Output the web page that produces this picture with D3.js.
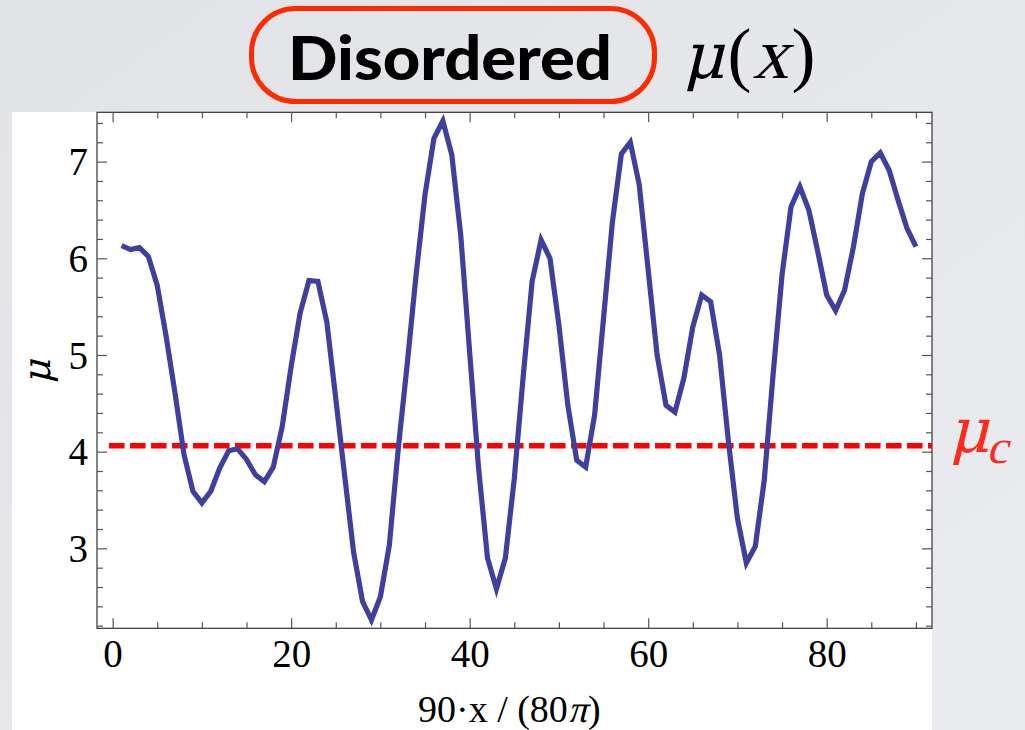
<!DOCTYPE html>
<html>
<head>
<meta charset="utf-8">
<script src="https://cdn.jsdelivr.net/npm/d3@7"></script>
<style>
  html, body { margin: 0; padding: 0; }
  body { width: 1025px; height: 730px; overflow: hidden; }
  svg { display: block; }
  .tick text { font-family: "Liberation Serif", "Times New Roman", serif; fill: #000; }
</style>
</head>
<body>
<svg id="chart" width="1025" height="730"></svg>
<script>
// Chemical potential profile mu along the disordered chain
const xValues = [
  1, 2, 3, 4, 5, 6, 7, 8, 9, 10,
  11, 12, 13, 14, 15, 16, 17, 18, 19, 20,
  21, 22, 23, 24, 25, 26, 27, 28, 29, 30,
  31, 32, 33, 34, 35, 36, 37, 38, 39, 40,
  41, 42, 43, 44, 45, 46, 47, 48, 49, 50,
  51, 52, 53, 54, 55, 56, 57, 58, 59, 60,
  61, 62, 63, 64, 65, 66, 67, 68, 69, 70,
  71, 72, 73, 74, 75, 76, 77, 78, 79, 80,
  81, 82, 83, 84, 85, 86, 87, 88, 89, 90
];
const muValues = [
  6.13, 6.09, 6.11, 6.02, 5.72, 5.19, 4.60, 3.97, 3.59, 3.47,
  3.59, 3.83, 4.01, 4.03, 3.92, 3.76, 3.69, 3.84, 4.26, 4.88,
  5.43, 5.77, 5.76, 5.34, 4.55, 3.75, 2.96, 2.45, 2.26, 2.50,
  3.03, 4.03, 4.90, 5.83, 6.66, 7.24, 7.42, 7.07, 6.24, 5.03,
  3.83, 2.90, 2.58, 2.90, 3.72, 4.78, 5.76, 6.19, 6.00, 5.31,
  4.48, 3.91, 3.84, 4.38, 5.38, 6.38, 7.08, 7.20, 6.76, 5.88,
  5.00, 4.48, 4.41, 4.76, 5.29, 5.62, 5.55, 5.00, 4.10, 3.31,
  2.85, 3.02, 3.70, 4.80, 5.83, 6.53, 6.74, 6.50, 6.07, 5.62,
  5.46, 5.67, 6.12, 6.67, 7.00, 7.09, 6.91, 6.60, 6.31, 6.12
];
const muCritical = 4.06;
const muCriticalFrom = -0.4;

const xDomain = [-1.75, 91.8];
const yDomain = [2.173, 7.51];
const xMajorTicks = [0, 20, 40, 60, 80];
const xMinorTicks = d3.range(0, 91, 5).filter(v => v % 20 !== 0);
const yMajorTicks = [3, 4, 5, 6, 7];
const yMinorTicks = d3.range(22, 75, 2).map(v => v / 10).filter(v => Math.abs(v - Math.round(v)) > 1e-6);

const titleText = "Disordered";

(function draw() {
  const svg = d3.select("#chart");
  const SERIF = "'Liberation Serif', 'Times New Roman', serif";
  const GREEK = "'DejaVu Serif', serif";

  // slanted serif text standing in for math italic
  function mathText(parent, str, px, py, size, color, family) {
    const t = parent.append("text")
      .attr("transform", `translate(${px},${py}) skewX(-14)`)
      .attr("font-family", family || SERIF).attr("font-size", size).attr("fill", color || "#000")
      .text(str);
    return t.node().getComputedTextLength();
  }
  function plainText(parent, str, px, py, size, color) {
    const t = parent.append("text").attr("x", px).attr("y", py)
      .attr("font-family", SERIF).attr("font-size", size).attr("fill", color || "#000")
      .text(str);
    return t.node().getComputedTextLength();
  }

  // slide background
  const defs = svg.append("defs");
  const bg = defs.append("linearGradient").attr("id", "bg").attr("x1", 0).attr("y1", 0).attr("x2", 1).attr("y2", 1);
  bg.append("stop").attr("offset", "0%").attr("stop-color", "#e1e3e7");
  bg.append("stop").attr("offset", "100%").attr("stop-color", "#ebecef");
  svg.append("rect").attr("width", 1025).attr("height", 730).attr("fill", "url(#bg)");

  // white figure panel
  svg.append("rect").attr("x", 12).attr("y", 112).attr("width", 920).attr("height", 618).attr("fill", "#ffffff");

  const box = { left: 97, right: 932, top: 112.3, bottom: 628.3 };
  const x = d3.scaleLinear().domain(xDomain).range([box.left, box.right]);
  const y = d3.scaleLinear().domain(yDomain).range([box.bottom, box.top]);

  // frame
  svg.append("rect").attr("x", box.left).attr("y", box.top)
    .attr("width", box.right - box.left).attr("height", box.bottom - box.top)
    .attr("fill", "none").attr("stroke", "#333").attr("stroke-width", 1.2);

  function styleTicks(g) {
    g.select(".domain").remove();
    g.selectAll(".tick line").attr("stroke", "#555").attr("stroke-width", 1.2);
  }

  // major ticks with labels
  svg.append("g").attr("transform", `translate(${box.left},0)`)
    .call(d3.axisLeft(y).tickValues(yMajorTicks).tickSize(-10).tickPadding(9).tickFormat(d3.format("d")))
    .call(styleTicks)
    .call(g => g.selectAll(".tick text").attr("font-size", 39).attr("dy", "0.34em"));
  svg.append("g").attr("transform", `translate(0,${box.bottom})`)
    .call(d3.axisBottom(x).tickValues(xMajorTicks).tickSize(-10).tickPadding(0).tickFormat(d3.format("d")))
    .call(styleTicks)
    .call(g => g.selectAll(".tick text").attr("font-size", 39).attr("y", 39).attr("dy", 0));
  svg.append("g").attr("transform", `translate(${box.right},0)`)
    .call(d3.axisRight(y).tickValues(yMajorTicks).tickSize(-10).tickFormat(""))
    .call(styleTicks);
  svg.append("g").attr("transform", `translate(0,${box.top})`)
    .call(d3.axisTop(x).tickValues(xMajorTicks).tickSize(-10).tickFormat(""))
    .call(styleTicks);

  // minor ticks
  svg.append("g").attr("transform", `translate(${box.left},0)`)
    .call(d3.axisLeft(y).tickValues(yMinorTicks).tickSize(-6).tickFormat("")).call(styleTicks);
  svg.append("g").attr("transform", `translate(${box.right},0)`)
    .call(d3.axisRight(y).tickValues(yMinorTicks).tickSize(-6).tickFormat("")).call(styleTicks);
  svg.append("g").attr("transform", `translate(0,${box.bottom})`)
    .call(d3.axisBottom(x).tickValues(xMinorTicks).tickSize(-6).tickFormat("")).call(styleTicks);
  svg.append("g").attr("transform", `translate(0,${box.top})`)
    .call(d3.axisTop(x).tickValues(xMinorTicks).tickSize(-6).tickFormat("")).call(styleTicks);

  // critical chemical potential
  svg.append("line")
    .attr("x1", x(muCriticalFrom)).attr("x2", x(xDomain[1]))
    .attr("y1", y(muCritical)).attr("y2", y(muCritical))
    .attr("stroke", "#ff0000").attr("stroke-width", 5.5).attr("stroke-dasharray", "15.5,5.5");

  // mu(x) curve
  const line = d3.line().x((d, i) => x(xValues[i])).y(d => y(d));
  svg.append("path").datum(muValues)
    .attr("d", line)
    .attr("fill", "none").attr("stroke", "#3f3f9f").attr("stroke-width", 5.2)
    .attr("stroke-linejoin", "miter");

  // x axis title: 90·x / (80π)
  const xt = svg.append("g");
  let cx = 418;
  cx += plainText(xt, "90·x / (80", cx, 722, 38);
  cx += mathText(xt, "π", cx, 722, 38);
  plainText(xt, ")", cx + 1, 722, 38);

  // y axis title
  const yt = svg.append("g").attr("transform", "translate(50,384) rotate(-90)");
  mathText(yt, "μ", 0, 0, 38, "#000", GREEK);

  // mu_c label
  const mc = svg.append("g");
  const wMu = mathText(mc, "μ", 949, 452, 62, "#ff2a1a", GREEK);
  mathText(mc, "c", 949 + wMu - 3, 463, 48, "#ff2a1a");

  // heading
  svg.append("rect").attr("x", 251.5).attr("y", 8.5).attr("width", 403).attr("height", 93)
    .attr("rx", 44).attr("ry", 44)
    .attr("fill", "none").attr("stroke", "#ff2a00").attr("stroke-width", 5);
  svg.append("text").attr("x", 288).attr("y", 80)
    .attr("font-family", "'Comic Sans MS', Lato, sans-serif").attr("font-weight", 900).attr("font-size", 60)
    .attr("textLength", 324).attr("lengthAdjust", "spacingAndGlyphs")
    .text(titleText);
  const hd = svg.append("g");
  let hx = 683;
  hx += mathText(hd, "μ", hx, 78, 64, "#000", GREEK);
  hx += plainText(hd, "(", hx + 3, 78, 72) + 3;
  hx += mathText(hd, "x", hx + 1, 78, 72) + 1;
  plainText(hd, ")", hx + 3, 78, 72);
})();
</script>
</body>
</html>
